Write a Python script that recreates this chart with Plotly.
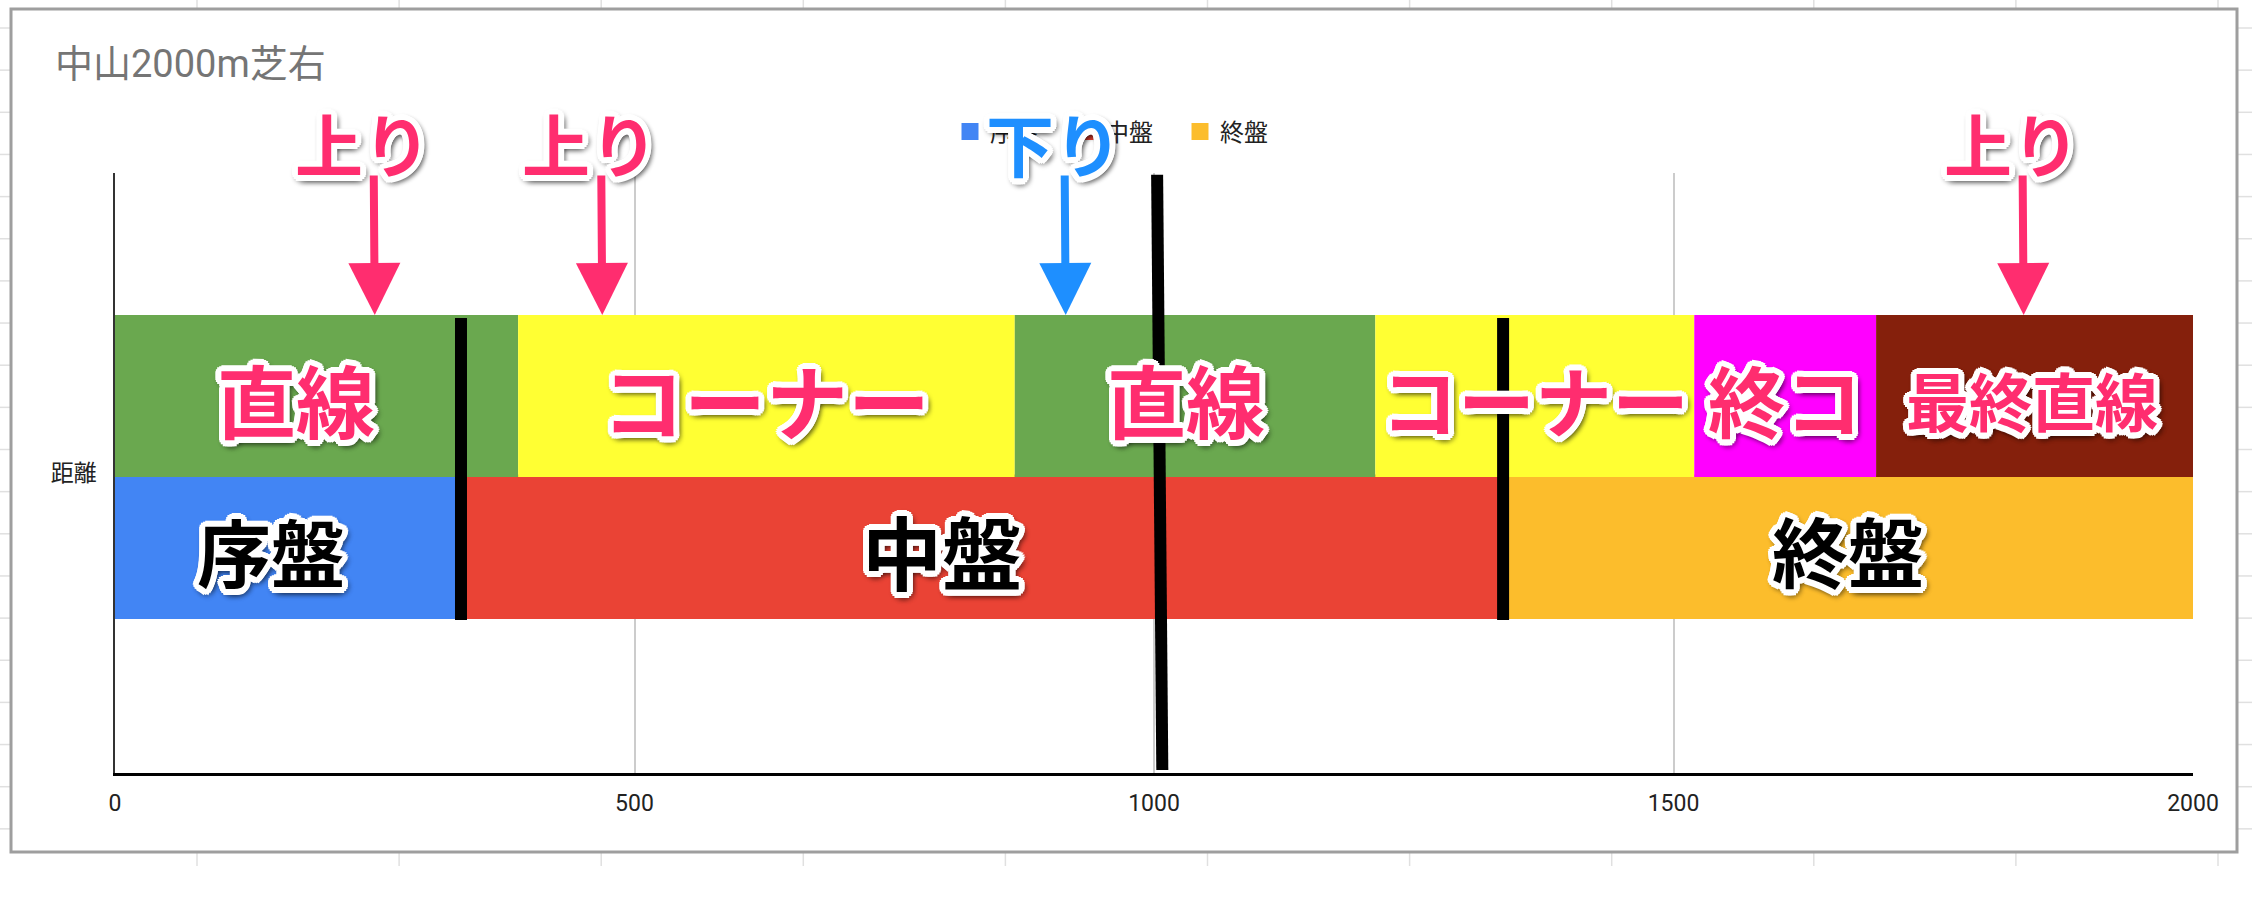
import math
import plotly.graph_objects as go

# 中山2000m芝右 のコース区分
phase_names = ["序盤", "中盤", "終盤"]
phase_lengths = [333, 1003, 664]

course_names = ["直線", "コーナー", "直線", "コーナー", "終コ", "最終直線"]
course_lengths = [388, 478, 347, 307, 175, 313]

slope_names = ["上り", "上り", "下り", "上り"]
slope_points = [250, 469, 915, 1837]

half_mark = 1005
x_ticks = [0, 500, 1000, 1500, 2000]

phase_colors = ["#4285f4", "#ea4335", "#fcbd2c"]
course_colors = ["#6aa84f", "#ffff33", "#6aa84f", "#ffff33", "#ff00ff", "#85200c"]
PINK = "#ff2d6f"
BLUE = "#1e8fff"
slope_colors = [PINK, PINK, BLUE, PINK]

# 文字の大きさと手書き位置のずれ (px)
course_font = [79, 82, 79, 77, 77, 63]
course_shift = [-21, 0, -9, 0, 0, -7]
phase_font = [74, 80, 76]
phase_shift = [-17, -40, 0]

W, H = 2252, 906
ML, MR, MT, MB = 115, 59, 173, 133
PW = W - ML - MR
PH = H - MT - MB
JP = "'Noto Sans CJK JP', 'Noto Sans CJK SC', sans-serif"


def px(x):
    return (x - ML) / PW


def py(y):
    return (H - MB - y) / PH


def starts(lengths):
    s = [0]
    for v in lengths[:-1]:
        s.append(s[-1] + v)
    return s


def outline(r=6):
    parts = []
    for i in range(16):
        a = 2 * math.pi * i / 16
        parts.append("%.1fpx %.1fpx 0px #ffffff" % (r * math.cos(a), r * math.sin(a)))
    for i in range(8):
        a = 2 * math.pi * i / 8
        parts.append("%.1fpx %.1fpx 4px rgba(0,0,0,0.25)" % (r * math.cos(a) + 2, r * math.sin(a) + 3))
    return ", ".join(parts)


SHADOW = outline()

phase_starts = starts(phase_lengths)
course_starts = starts(course_lengths)

# 行の位置 (カテゴリ軸上)
LOW_OFF, LOW_W = -0.2392, 0.2325
UP_OFF, UP_W = -0.0067, 0.27
ROW_TOP = UP_OFF + UP_W

fig = go.Figure()

for name, s, v, c in zip(phase_names, phase_starts, phase_lengths, phase_colors):
    fig.add_trace(go.Bar(
        y=["距離"], x=[v], base=[s], orientation="h", name=name,
        marker=dict(color=c, line=dict(width=5, color=c)),
        offset=LOW_OFF, width=LOW_W, hoverinfo="skip",
    ))

fig.add_trace(go.Bar(
    y=["距離"] * len(course_names), x=course_lengths, base=course_starts,
    orientation="h", showlegend=False,
    marker=dict(color=course_colors, line=dict(width=0)),
    offset=UP_OFF, width=UP_W, hoverinfo="skip",
))

annotations = []
for name, s, v, fs, sh in zip(course_names, course_starts, course_lengths, course_font, course_shift):
    annotations.append(dict(
        x=s + v / 2, y=0.125, xref="x", yref="y", text=name, showarrow=False, xshift=sh,
        font=dict(family=JP, size=fs, color=PINK, weight="bold", shadow=SHADOW),
    ))

for name, s, v, fs, sh in zip(phase_names, phase_starts, phase_lengths, phase_font, phase_shift):
    annotations.append(dict(
        x=s + v / 2, y=-0.127, xref="x", yref="y", text=name, showarrow=False, xshift=sh,
        font=dict(family=JP, size=fs, color="#000000", weight="bold", shadow=SHADOW),
    ))

for name, xv, c in zip(slope_names, slope_points, slope_colors):
    # 矢印
    annotations.append(dict(
        x=xv, y=ROW_TOP, xref="x", yref="y", text="",
        showarrow=True, ax=-1, ay=-141, arrowcolor=c, arrowwidth=8,
        arrowhead=2, arrowsize=1.3,
    ))
    # 上り / 下り
    annotations.append(dict(
        x=xv, y=ROW_TOP, xref="x", yref="y", text=name, showarrow=False,
        xshift=-12, yshift=173,
        font=dict(family=JP, size=68, color=c, weight="bold", shadow=SHADOW),
    ))

shapes = []
# 区切り線
for xv in phase_starts[1:]:
    shapes.append(dict(type="line", xref="x", yref="y", x0=xv, x1=xv,
                       y0=LOW_OFF - 0.006, y1=ROW_TOP - 0.005,
                       line=dict(color="#000000", width=12), layer="above"))
shapes.append(dict(type="line", xref="x", yref="y", x0=half_mark - 2, x1=half_mark + 3,
                   y0=0.497, y1=-0.495, line=dict(color="#000000", width=12), layer="above"))

# シートのセル線とグラフ枠
for k in range(11):
    xx = px(197 + 202.1 * k)
    shapes.append(dict(type="line", xref="paper", yref="paper", x0=xx, x1=xx,
                       y0=py(0), y1=py(9), line=dict(color="#e0e0e0", width=1.5), layer="below"))
    shapes.append(dict(type="line", xref="paper", yref="paper", x0=xx, x1=xx,
                       y0=py(853), y1=py(866), line=dict(color="#e0e0e0", width=1.5), layer="below"))
for k in range(20):
    yy = py(28 + 42.15 * k)
    shapes.append(dict(type="line", xref="paper", yref="paper", x0=px(0), x1=px(11),
                       y0=yy, y1=yy, line=dict(color="#e0e0e0", width=1.5), layer="below"))
    shapes.append(dict(type="line", xref="paper", yref="paper", x0=px(2237), x1=px(2252),
                       y0=yy, y1=yy, line=dict(color="#e0e0e0", width=1.5), layer="below"))
shapes.append(dict(type="rect", xref="paper", yref="paper", x0=px(11), x1=px(2237),
                   y0=py(9), y1=py(852), line=dict(color="#9e9e9e", width=3), layer="below"))

fig.update_layout(
    width=W, height=H,
    margin=dict(l=ML, r=MR, t=MT, b=MB),
    paper_bgcolor="#ffffff", plot_bgcolor="#ffffff",
    barmode="overlay",
    font=dict(family="Roboto, " + JP, color="#222222"),
    title=dict(text="中山2000m芝右", x=55 / W, xref="container", xanchor="left",
               y=1 - 64 / H, yref="container", yanchor="middle",
               font=dict(size=38, color="#757575")),
    legend=dict(orientation="h", x=px(950), xanchor="left", y=py(132), yanchor="middle",
                font=dict(size=24, color="#222222"), entrywidth=70,
                entrywidthmode="pixels", bgcolor="rgba(0,0,0,0)", traceorder="normal"),
    xaxis=dict(range=[0, 2000], tickvals=x_ticks, showgrid=True, gridcolor="#cccccc",
               gridwidth=1.5, zeroline=False, showline=True, linecolor="#000000",
               linewidth=2.5, ticks="", tickfont=dict(size=23, color="#222222"),
               ticklabelstandoff=8, fixedrange=True),
    yaxis=dict(type="category", range=[-0.5, 0.5], showgrid=False, zeroline=False,
               showline=True, linecolor="#333333", linewidth=1.5, ticks="",
               tickfont=dict(size=23, color="#222222"), ticklabelstandoff=12,
               fixedrange=True),
    annotations=annotations,
    shapes=shapes,
)

fig.write_html("out.html", config={"displayModeBar": False},
               post_script="document.body.style.margin='0px';")
